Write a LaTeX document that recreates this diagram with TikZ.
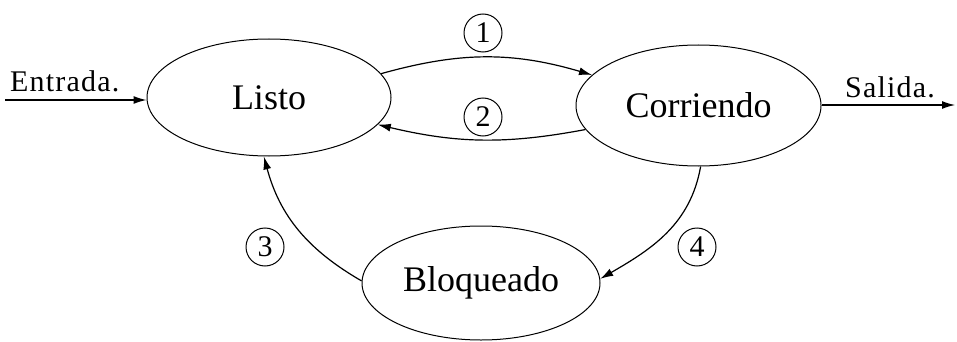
\documentclass[tikz,border=0pt]{standalone}
\usepackage{fontspec}
\setmainfont{Liberation Serif}
\newfontfamily\spacedfont[LetterSpace=4]{Liberation Serif}
\usetikzlibrary{shapes.geometric,arrows.meta}
\tikzset{
  state/.style={draw, ellipse, line width=1pt, inner sep=0pt, font=\fontsize{36}{40}\selectfont},
  num/.style={draw, circle, line width=1pt, inner sep=0pt, minimum size=38pt, font=\fontsize{30}{32}\selectfont},
  edge/.style={line width=1.2pt, -{Latex[length=13pt,width=8pt]}},
  io/.style={font=\spacedfont\fontsize{30}{32}\selectfont, inner sep=0pt, anchor=base west}
}
\begin{document}
\begin{tikzpicture}[x=1pt,y=1pt]
\useasboundingbox (0,0) rectangle (957,-342);
\node[state, minimum width=244pt, minimum height=117pt] (L) at (269,-97.5) {Listo};
\node[state, minimum width=245pt, minimum height=121pt] (C) at (698.5,-105.5) {Corriendo};
\node[state, minimum width=238pt, minimum height=114pt] (B) at (481,-283) {Bloqueado};
\coordinate (in) at (5,-100);
\coordinate (out) at (955,-105);
\node[io] (tin) at (10,-92) {Entrada.};
\node[io] (tout) at (845,-98) {Salida.};
\draw[edge] (in) -- (in -| L.west);
\draw[edge] (C.east |- out) -- (out);
\draw[edge] (L.12) to[bend left=16] (C.164);
\draw[edge] (C.192) to[bend left=12] (L.346);
\draw[edge] (B.179) to[out=150,in=-75] (L.265);
\draw[edge] (C.-88) to[out=-100,in=30] (B.2);
\node[num] (n1) at (483,-33) {1};
\node[num] (n2) at (483,-117) {2};
\node[num] (n3) at (265,-247) {3};
\node[num] (n4) at (697,-247) {4};
\end{tikzpicture}
\end{document}
